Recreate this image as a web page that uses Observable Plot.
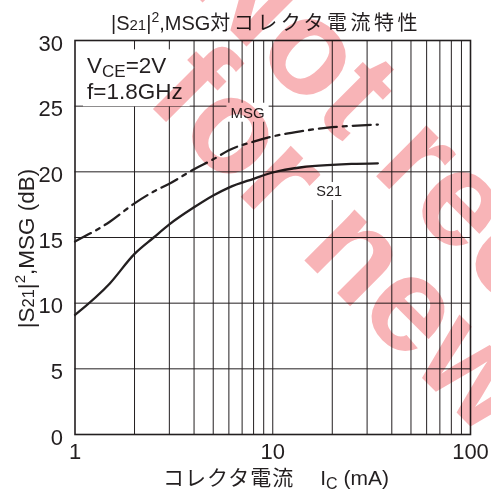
<!DOCTYPE html>
<html><head><meta charset="utf-8">
<script src="https://cdn.jsdelivr.net/npm/d3@7"></script>
<script src="https://cdn.jsdelivr.net/npm/@observablehq/plot@0.6"></script>
<style>html,body{margin:0;padding:0;background:#fff;} svg{display:block}</style>
</head><body><div id="chart"></div>
<script>
// ---- data ----
const current = [1, 1.5, 2, 2.5, 3, 4, 5, 6, 8, 10, 14, 20, 25, 34];           // Ic (mA)
const s21 =     [9.1, 11.5, 13.75, 15.0, 16.0, 17.3, 18.2, 18.8, 19.47, 19.95, 20.35, 20.53, 20.6, 20.65];
const msg =     [14.7, 16.2, 17.6, 18.5, 19.1, 20.2, 20.95, 21.65, 22.3, 22.7, 23.1, 23.4, 23.5, 23.6];
const xTicks = [1, 10, 100];
const xGrid = [2, 3, 4, 5, 6, 7, 8, 9, 10, 20, 30, 40, 50, 60, 70, 80, 90];
const yTicks = [0, 5, 10, 15, 20, 25, 30];
const yGrid = [5, 10, 15, 20, 25];
const seriesLabels = [
  {text: "MSG", x: 7.5, y: 24.5},
  {text: "S21", x: 19.4, y: 18.5}
];
const condPos = {x: 1.157, y1: 27.46, y2: 25.49};
const watermarkLines = ["Not recommended", "for new design"];

const FONT = '"Liberation Sans", Arial, Helvetica, "Noto Sans CJK JP", sans-serif';
const JFONT = '"Liberation Sans", Arial, "Noto Sans CJK JP", sans-serif';
const INK = "#231f20";

const data = current.map((c, i) => ({c, s21: s21[i], msg: msg[i]}));

const plot = Plot.plot({
  width: 491, height: 497,
  marginLeft: 74.5, marginRight: 21, marginTop: 40, marginBottom: 63,
  style: {fontFamily: FONT, fontSize: "22px", color: INK, background: "white", overflow: "visible"},
  x: {type: "log", domain: [1, 100]},
  y: {domain: [0, 30]},
  marks: [
    Plot.ruleX(xGrid, {stroke: INK, strokeWidth: 1}),
    Plot.ruleY(yGrid, {stroke: INK, strokeWidth: 1}),
    Plot.lineY(data, {x: "c", y: "s21", curve: "monotone-x", stroke: INK, strokeWidth: 2.3}),
    Plot.lineY(data, {x: "c", y: "msg", curve: "monotone-x", stroke: INK, strokeWidth: 2.3, strokeDasharray: "18,6,4,6"}),
    Plot.frame({stroke: INK, strokeWidth: 1.6}),
    Plot.axisX({ticks: xTicks, tickFormat: d => String(d), tickSize: 0, tickPadding: 9, fontSize: 22, label: null}),
    Plot.axisY({ticks: yTicks, tickSize: 0, tickPadding: 12, dy: 3, fontSize: 22, label: null})
  ]
});
document.getElementById("chart").appendChild(plot);

const xs = plot.scale("x"), ys = plot.scale("y");
const svg = d3.select(plot);
const ann = svg.append("g").attr("font-family", FONT).attr("fill", INK);

function boxed(g, pad) {
  const b = g.node().getBBox();
  g.insert("rect", ":first-child")
    .attr("x", b.x - pad[3]).attr("y", b.y - pad[0])
    .attr("width", b.width + pad[1] + pad[3]).attr("height", b.height + pad[0] + pad[2])
    .attr("fill", "white");
}

// condition block
const cond = ann.append("g").attr("font-size", 22.5).attr("text-anchor", "start");
const t1 = cond.append("text").attr("x", xs.apply(condPos.x)).attr("y", ys.apply(condPos.y1));
t1.append("tspan").text("V");
t1.append("tspan").attr("font-size", 17).attr("dy", 4).text("CE");
t1.append("tspan").attr("dy", -4).text("=2V");
cond.append("text").attr("x", xs.apply(condPos.x)).attr("y", ys.apply(condPos.y2)).text("f=1.8GHz");
boxed(cond, [4, 7, 2, 4]);

// series labels
for (const l of seriesLabels) {
  const g = ann.append("g").attr("font-size", l.text === "MSG" ? 15 : 14.5);
  g.append("text").attr("x", xs.apply(l.x)).attr("y", ys.apply(l.y))
    .attr("text-anchor", "middle").attr("dominant-baseline", "central").text(l.text);
  boxed(g, [1, 4, 1, 4]);
}

// title
const title = ann.append("text").attr("x", 266).attr("y", 29.5).attr("text-anchor", "middle").attr("font-size", 20);
title.append("tspan").text("|S");
title.append("tspan").attr("font-size", 15).text("21");
title.append("tspan").text("|");
title.append("tspan").attr("font-size", 14).attr("dy", -8).text("2");
title.append("tspan").attr("dy", 8).text(",MSG");
title.append("tspan").attr("font-family", JFONT).attr("letter-spacing", 3.5).text("対コレクタ電流特性");

// y-axis label
const yl = ann.append("text").attr("transform", "translate(34,248.5) rotate(-90)")
  .attr("text-anchor", "middle").attr("font-size", 22.5);
yl.append("tspan").text("|S");
yl.append("tspan").attr("font-size", 16.5).text("21");
yl.append("tspan").text("|");
yl.append("tspan").attr("font-size", 15).attr("dy", -9).text("2");
yl.append("tspan").attr("dy", 9).text(",MSG (dB)");

// x-axis label
const xl = ann.append("text").attr("x", 276).attr("y", 485).attr("text-anchor", "middle").attr("font-size", 21);
xl.append("tspan").attr("font-family", JFONT).attr("letter-spacing", 1).text("コレクタ電流");
xl.append("tspan").attr("dx", 26).text("I");
xl.append("tspan").attr("font-size", 16).attr("dy", 4).text("C");
xl.append("tspan").attr("dy", -4).text(" (mA)");

// watermark
const wm = svg.append("g").style("mix-blend-mode", "multiply").attr("text-anchor", "start")
  .attr("font-family", '"Liberation Sans", Arial, sans-serif').attr("font-weight", "bold")
  .attr("font-size", 135).attr("fill", "#f8b4b7");
wm.append("text").attr("transform", "translate(184,-16) rotate(45)").text(watermarkLines[0]);
wm.append("text").attr("transform", "translate(144,100) rotate(45)").text(watermarkLines[1]);
</script>
</body></html>
